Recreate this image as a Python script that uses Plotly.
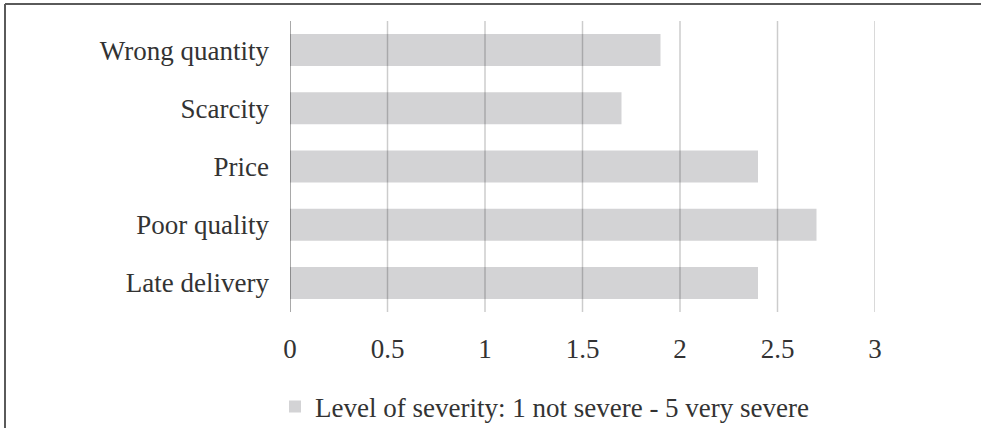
import plotly.graph_objects as go

categories = ["Late delivery", "Poor quality", "Price", "Scarcity", "Wrong quantity"]
values = [2.4, 2.7, 2.4, 1.7, 1.9]
series_name = "Level of severity: 1 not severe - 5 very severe"
tick_vals = [0, 0.5, 1, 1.5, 2, 2.5, 3]
tick_text = ["0", "0.5", "1", "1.5", "2", "2.5", "3"]

W, H = 981, 428
ml, mr, mt, mb = 290, 106, 21, 116
pw, ph = W - ml - mr, H - mt - mb

def px_x(p):
    return (p - ml) / pw

def px_y(p):
    return (H - mb - p) / ph

font_family = "Liberation Serif, Times New Roman, serif"

fig = go.Figure()
fig.add_trace(go.Bar(
    y=categories, x=values, orientation="h", name=series_name,
    marker=dict(color="#d3d3d5", line=dict(width=0)),
    width=0.55, showlegend=True,
))

grid_shapes = [
    dict(type="line", xref="x", yref="paper", x0=v, x1=v, y0=0, y1=1,
         layer="above", line=dict(color="rgba(0,0,0,0.45)" if v == 0 else "rgba(0,0,0,0.2)", width=1.5))
    for v in tick_vals
]

border_shapes = [
    dict(type="line", xref="paper", yref="paper",
         x0=px_x(5), x1=px_x(990), y0=px_y(4), y1=px_y(4),
         line=dict(color="#5a5a5a", width=2)),
    dict(type="line", xref="paper", yref="paper",
         x0=px_x(5), x1=px_x(5), y0=px_y(4), y1=px_y(430),
         line=dict(color="#5a5a5a", width=2)),
]

fig.update_layout(
    width=W, height=H,
    margin=dict(l=ml, r=mr, t=mt, b=mb, autoexpand=False),
    paper_bgcolor="white", plot_bgcolor="white",
    font=dict(family=font_family, size=27, color="#333333"),
    showlegend=True,
    legend=dict(orientation="h", x=px_x(275), y=px_y(407), xanchor="left", yanchor="middle",
                font=dict(size=27, color="#333333"), bgcolor="rgba(0,0,0,0)"),
    xaxis=dict(range=[0, 3], tickvals=tick_vals, ticktext=tick_text,
               showgrid=False, zeroline=False,
               showline=False, ticks="", ticklabelstandoff=18, fixedrange=True),
    yaxis=dict(range=[-0.5, 4.5], showgrid=False, zeroline=False, showline=False,
               ticks="", ticklabelstandoff=20, fixedrange=True),
    shapes=grid_shapes + border_shapes,
)

fig.write_html("out.html")
